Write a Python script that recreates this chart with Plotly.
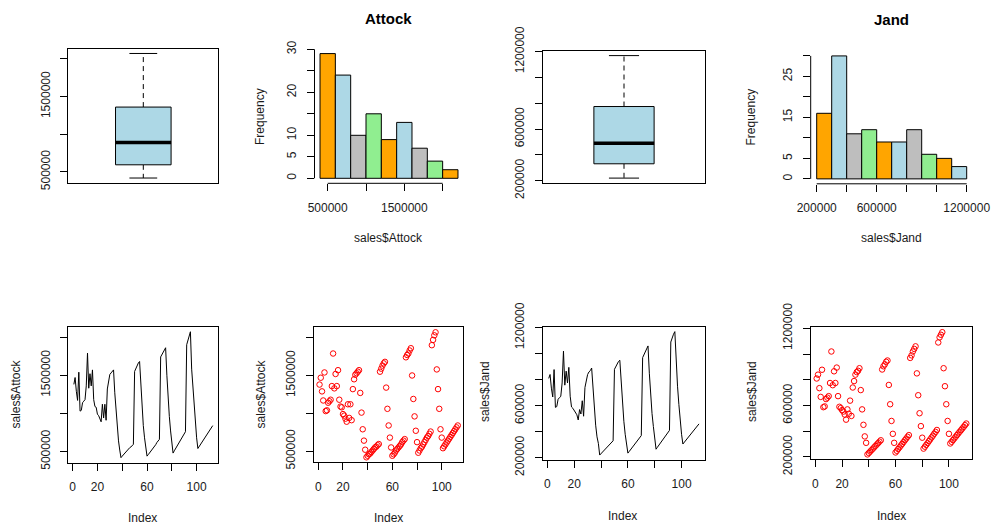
import numpy as np
import plotly.graph_objects as go

W, H = 993, 527

# ---------------- data ----------------
attock = [
    1380000, 1470000, 1290000, 1170000, 1540000, 1030000, 1040000, 1140000, 1160000, 1180000,
    1360000, 1790000, 1330000, 1520000, 1360000, 1570000, 1180000, 1090000, 1080000, 990000,
    970000, 930000, 890000, 1120000, 940000, 1120000, 910000,
    1320000, 1450000, 1510000, 1530000, 1550000, 1570000,
    1270000, 1010000, 790000, 640000, 520000,
    420000, 440000, 460000, 470000, 490000, 510000, 530000, 550000, 560000, 580000, 595000,
    1550000, 1590000, 1630000, 1660000, 1680000,
    1340000, 1060000, 840000, 680000, 550000,
    440000, 460000, 480000, 510000, 530000, 550000, 570000, 590000, 620000, 640000, 660000,
    1740000, 1770000, 1790000, 1830000, 1860000,
    1500000, 1190000, 960000, 770000, 620000,
    480000, 510000, 540000, 560000, 590000, 620000, 650000, 680000, 700000, 730000, 760000,
    1900000, 1970000, 2030000, 2070000,
    1580000, 1320000, 1060000, 790000, 680000,
    540000, 565000, 590000, 615000, 640000, 665000, 690000, 715000, 740000, 765000, 790000, 815000, 840000,
]

jand = [
    810000, 840000, 735000, 667000, 878000, 587000, 593000, 650000, 661000, 673000,
    775000, 1020000, 758000, 866000, 775000, 895000, 673000, 590000, 580000, 564000,
    553000, 530000, 490000, 570000, 536000, 638000, 519000,
    740000, 790000, 840000, 860000, 870000, 890000,
    720000, 570000, 450000, 360000, 310000,
    220000, 231000, 242000, 253000, 264000, 275000, 286000, 297000, 308000, 319000, 330000,
    880000, 905000, 920000, 940000, 950000,
    760000, 610000, 480000, 380000, 310000,
    235000, 248000, 262000, 275000, 289000, 302000, 316000, 330000, 343000, 357000, 370000,
    970000, 990000, 1020000, 1040000, 1060000,
    850000, 680000, 540000, 440000, 350000,
    265000, 280000, 294000, 308000, 323000, 337000, 352000, 366000, 381000, 395000, 410000,
    1090000, 1130000, 1150000, 1170000,
    890000, 750000, 610000, 480000, 380000,
    305000, 318000, 331000, 344000, 357000, 370000, 383000, 396000, 408000, 421000, 434000, 447000, 460000,
]

index = list(range(1, len(attock) + 1))

hist_colors = ["orange", "lightblue", "#BEBEBE", "lightgreen"]
attock_breaks = list(range(400000, 2200001, 200000))
jand_breaks = list(range(200000, 1200001, 100000))

attock_yticks = [500000, 1000000, 1500000, 2000000]
attock_ytext = ["500000", "", "1500000", ""]
jand_yticks = [200000, 400000, 600000, 800000, 1000000, 1200000]
jand_ytext = ["200000", "", "600000", "", "", "1200000"]
index_ticks = [0, 20, 40, 60, 80, 100]
index_text = ["0", "20", "", "60", "", "100"]
attock_hist_xticks = [500000, 1000000, 1500000, 2000000]
attock_hist_xtext = ["500000", "", "1500000", ""]
jand_hist_xticks = [200000, 400000, 600000, 800000, 1000000, 1200000]
jand_hist_xtext = ["200000", "", "600000", "", "", "1200000"]
freq_ticks = [0, 5, 10, 15, 20, 25, 30]
attock_freq_text = ["0", "5", "10", "", "20", "", "30"]
jand_freq_text = ["0", "5", "", "15", "", "25", ""]

# ---------------- helpers ----------------
FONT = "Liberation Sans, Arial, sans-serif"
TXT = "#1a1a1a"


def prange(lo, hi):
    d = (hi - lo) * 0.04
    return [lo - d, hi + d]


def fivenum(v):
    x = np.sort(np.asarray(v, float))
    n = len(x)
    n4 = np.floor((n + 3) / 2) / 2
    d = np.array([1, n4, (n + 1) / 2, n + 1 - n4, n])
    return 0.5 * (x[np.floor(d).astype(int) - 1] + x[np.ceil(d).astype(int) - 1])


def dom(px0, px1, py0, py1):
    return [px0 / W, px1 / W], [1 - py1 / H, 1 - py0 / H]


panels = {
    1: (68.3, 218.3, 48.5, 183.0),
    2: (314.5, 463.5, 48.6, 183.3),
    3: (542.7, 705.3, 50.7, 183.0),
    4: (810.7, 972.7, 51.0, 183.8),
    5: (68.3, 218.3, 326.7, 462.7),
    6: (314.0, 463.3, 327.3, 462.3),
    7: (542.7, 705.0, 326.7, 460.0),
    8: (810.7, 972.3, 327.3, 459.3),
}

fig = go.Figure()
layout = dict(width=W, height=H, margin=dict(l=0, r=0, t=0, b=0, autoexpand=False),
              paper_bgcolor="white", plot_bgcolor="white", showlegend=False,
              font=dict(family=FONT, size=12, color=TXT))
shapes = []
annotations = []

tickfont = dict(family=FONT, size=12, color=TXT)


def axes(i, xr, yr, boxed, xt=None, xtt=None, yt=None, ytt=None):
    xd, yd = dom(*panels[i])
    sx = "" if i == 1 else str(i)
    xa = dict(domain=xd, range=xr, anchor="y" + sx, showgrid=False, zeroline=False,
              showline=boxed, mirror=boxed, linecolor="black", linewidth=1,
              tickfont=tickfont, ticklabelstandoff=6, automargin=False)
    ya = dict(domain=yd, range=yr, anchor="x" + sx, showgrid=False, zeroline=False,
              showline=boxed, mirror=boxed, linecolor="black", linewidth=1,
              tickfont=tickfont, tickangle=-90, ticklabelstandoff=6, automargin=False)
    if xt is None:
        xa.update(showticklabels=False, ticks="")
    else:
        xa.update(tickmode="array", tickvals=xt, ticktext=xtt, ticks="outside",
                  ticklen=7, tickwidth=1, tickcolor="black")
    ya.update(tickmode="array", tickvals=yt, ticktext=ytt, ticks="outside",
              ticklen=7, tickwidth=1, tickcolor="black")
    layout["xaxis" + sx] = xa
    layout["yaxis" + sx] = ya
    return "x" + sx, "y" + sx


def boxplot(i, data, yt, ytt):
    xr = prange(0.5, 1.5)
    yr = prange(min(data), max(data))
    xref, yref = axes(i, xr, yr, True, None, None, yt, ytt)
    fig.add_trace(go.Scatter(x=[1] * len(data), y=data, mode="markers",
                             marker=dict(opacity=0), hoverinfo="skip",
                             xaxis=xref, yaxis=yref))
    f = fivenum(data)
    arr = np.asarray(data, float)
    iqr = f[3] - f[1]
    upper = arr[arr <= f[3] + 1.5 * iqr].max()
    lower = arr[arr >= f[1] - 1.5 * iqr].min()
    dash = "5px,4px"
    shapes.extend([
        dict(type="line", xref=xref, yref=yref, x0=1, x1=1, y0=f[3], y1=upper,
             line=dict(color="black", width=1, dash=dash)),
        dict(type="line", xref=xref, yref=yref, x0=1, x1=1, y0=f[1], y1=lower,
             line=dict(color="black", width=1, dash=dash)),
        dict(type="line", xref=xref, yref=yref, x0=0.9, x1=1.1, y0=upper, y1=upper,
             line=dict(color="black", width=1)),
        dict(type="line", xref=xref, yref=yref, x0=0.9, x1=1.1, y0=lower, y1=lower,
             line=dict(color="black", width=1)),
        dict(type="rect", xref=xref, yref=yref, x0=0.8, x1=1.2, y0=f[1], y1=f[3],
             fillcolor="lightblue", line=dict(color="black", width=1)),
        dict(type="line", xref=xref, yref=yref, x0=0.8, x1=1.2, y0=f[2], y1=f[2],
             line=dict(color="black", width=3.5)),
    ])


def histogram(i, data, breaks, xt, xtt, ytt):
    counts, edges = np.histogram(np.asarray(data, float), bins=breaks)
    centers = (edges[:-1] + edges[1:]) / 2
    widths = np.diff(edges)
    xr = prange(breaks[0], breaks[-1])
    yr = prange(0, counts.max())
    xref, yref = axes(i, xr, yr, False, xt, xtt, freq_ticks, ytt)
    cols = [hist_colors[k % len(hist_colors)] for k in range(len(counts))]
    fig.add_trace(go.Bar(x=centers, y=counts, width=widths,
                         marker=dict(color=cols, line=dict(color="black", width=1)),
                         xaxis=xref, yaxis=yref, hoverinfo="skip"))
    shapes.append(dict(type="line", xref=xref + " domain", yref=yref, x0=0, x1=0,
                       y0=freq_ticks[0], y1=freq_ticks[-1], line=dict(color="black", width=1)))
    shapes.append(dict(type="line", xref=xref, yref=yref + " domain", x0=xt[0], x1=xt[-1],
                       y0=0, y1=0, line=dict(color="black", width=1)))


def series(i, data, yt, ytt, mode):
    xr = prange(1, len(data))
    yr = prange(min(data), max(data))
    xref, yref = axes(i, xr, yr, True, index_ticks, index_text, yt, ytt)
    if mode == "lines":
        tr = go.Scatter(x=index, y=data, mode="lines", line=dict(color="black", width=1),
                        xaxis=xref, yaxis=yref, hoverinfo="skip")
    else:
        tr = go.Scatter(x=index, y=data, mode="markers",
                        marker=dict(symbol="circle-open", size=5.5, color="red",
                                    line=dict(color="red", width=1)),
                        xaxis=xref, yaxis=yref, hoverinfo="skip")
    fig.add_trace(tr)


def ann(text, px, py, angle=0, size=12, bold=False):
    annotations.append(dict(text=("<b>%s</b>" % text) if bold else text,
                            x=px / W, y=1 - py / H, xref="paper", yref="paper",
                            xanchor="center", yanchor="middle", showarrow=False,
                            textangle=angle,
                            font=dict(family=FONT, size=size, color="black" if bold else TXT)))


boxplot(1, attock, attock_yticks, attock_ytext)
histogram(2, attock, attock_breaks, attock_hist_xticks, attock_hist_xtext, attock_freq_text)
boxplot(3, jand, jand_yticks, jand_ytext)
histogram(4, jand, jand_breaks, jand_hist_xticks, jand_hist_xtext, jand_freq_text)
series(5, attock, attock_yticks, attock_ytext, "lines")
series(6, attock, attock_yticks, attock_ytext, "markers")
series(7, jand, jand_yticks, jand_ytext, "lines")
series(8, jand, jand_yticks, jand_ytext, "markers")

ann("Attock", 388.5, 18.5, size=15, bold=True)
ann("Jand", 891.5, 19.5, size=15, bold=True)
ann("Frequency", 260, 117, angle=-90)
ann("Frequency", 751, 117.5, angle=-90)
ann("sales$Attock", 388.5, 238)
ann("sales$Jand", 891.5, 238)
ann("sales$Attock", 15, 394.5, angle=-90)
ann("sales$Attock", 260, 394.5, angle=-90)
ann("sales$Jand", 485, 392, angle=-90)
ann("sales$Jand", 752, 392, angle=-90)
ann("Index", 142, 518)
ann("Index", 388.5, 518)
ann("Index", 622, 516)
ann("Index", 891, 516)

layout["shapes"] = shapes
layout["annotations"] = annotations
fig.update_layout(**layout)
fig.write_html("out.html", config={"displayModeBar": False},
               post_script="document.body.style.margin='0px';")
